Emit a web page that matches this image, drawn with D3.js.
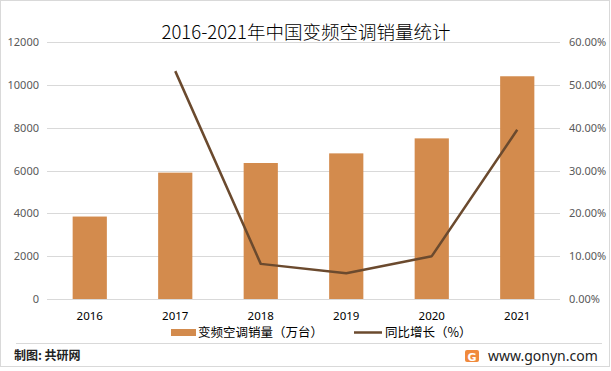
<!DOCTYPE html>
<html><head><meta charset="utf-8">
<script src="https://cdn.jsdelivr.net/npm/d3@7"></script>
<style>
html,body{margin:0;padding:0;background:#fff;}
svg{display:block;font-family:"Noto Sans CJK SC","Noto Sans",sans-serif;}
</style></head>
<body><svg id="c" width="611" height="371"></svg>
<script>
const categories = ["2016","2017","2018","2019","2020","2021"];
const salesValues = [3850, 5900, 6350, 6800, 7500, 10400];
const growthValues = [null, 53.2, 8.2, 6.0, 10.0, 39.5];
const leftTicks = [0, 2000, 4000, 6000, 8000, 10000, 12000];
const rightTicks = [0, 10, 20, 30, 40, 50, 60];
const titleText = "2016-2021年中国变频空调销量统计";
const legendLabels = ["变频空调销量（万台）", "同比增长（%）"];

const svg = d3.select("#c");
const barColor = "#d38b4d", lineColor = "#6b4a2e";
const plotL = 47, plotR = 560, plotT = 42, plotB = 299;

// frame
svg.append("rect").attr("x",0.5).attr("y",0.5).attr("width",609).attr("height",366)
  .attr("fill","#fff").attr("stroke","#d9d9d9");

const x = d3.scaleBand().domain(categories).range([plotL, plotR]).paddingInner(0.6).paddingOuter(0.3);
const yL = d3.scaleLinear().domain([0, 12000]).range([plotB, plotT]);
const yR = d3.scaleLinear().domain([0, 60]).range([plotB, plotT]);

// gridlines
svg.append("g").selectAll("line").data(leftTicks).join("line")
  .attr("x1", plotL).attr("x2", plotR)
  .attr("y1", d => Math.round(yL(d))+0.5).attr("y2", d => Math.round(yL(d))+0.5)
  .attr("stroke","#d9d9d9").attr("stroke-width",1);

// left axis
const la = svg.append("g").attr("transform",`translate(${plotL},0)`)
  .call(d3.axisLeft(yL).tickValues(leftTicks).tickSize(0).tickPadding(8).tickFormat(d3.format("d")));
la.select(".domain").remove();
la.selectAll("text").attr("fill","#595959").style("font-size","11px").style("font-family","'Noto Sans','DejaVu Sans',sans-serif");

// right axis
const ra = svg.append("g").attr("transform",`translate(${plotR},0)`)
  .call(d3.axisRight(yR).tickValues(rightTicks).tickSize(0).tickPadding(9).tickFormat(d => d.toFixed(2)+"%"));
ra.select(".domain").remove();
ra.selectAll("text").attr("fill","#595959").style("font-size","11px").style("font-family","'Noto Sans','DejaVu Sans',sans-serif");

// bars
svg.append("g").selectAll("rect").data(categories).join("rect")
  .attr("x", d => x(d)).attr("width", x.bandwidth())
  .attr("y", (d,i) => yL(salesValues[i]))
  .attr("height", (d,i) => yL(0) - yL(salesValues[i]))
  .attr("fill", barColor);

// x axis
const xa = svg.append("g").attr("transform",`translate(0,${plotB})`)
  .call(d3.axisBottom(x).tickSize(0).tickPadding(13));
xa.select(".domain").remove();
xa.selectAll("text").attr("fill","#000").style("font-size","11.5px").style("font-family","'Noto Sans','DejaVu Sans',sans-serif");

// line
const pts = categories.map((c,i) => ({c, v: growthValues[i]})).filter(d => d.v !== null);
svg.append("path").datum(pts)
  .attr("d", d3.line().x(d => x(d.c) + x.bandwidth()/2).y(d => yR(d.v)))
  .attr("fill","none").attr("stroke",lineColor).attr("stroke-width",2.5).attr("stroke-linejoin","round");

// title
svg.append("text").attr("x", 306).attr("y", 39).attr("text-anchor","middle")
  .attr("fill","#000").style("font-size","18.5px").style("font-weight","300").text(titleText);

// legend
const lg = svg.append("g");
lg.append("rect").attr("x",171).attr("y",329).attr("width",25).attr("height",7).attr("fill",barColor);
lg.append("text").attr("x",198).attr("y",337).attr("fill","#000").style("font-size","12.5px").text(legendLabels[0]);
lg.append("line").attr("x1",354).attr("x2",382).attr("y1",332.5).attr("y2",332.5).attr("stroke",lineColor).attr("stroke-width",2.5);
lg.append("text").attr("x",385).attr("y",337).attr("fill","#000").style("font-size","12.5px").text(legendLabels[1]);

// footer
svg.append("line").attr("x1",16).attr("x2",602).attr("y1",343.5).attr("y2",343.5).attr("stroke","#d9d9d9");
svg.append("text").attr("x",14).attr("y",360).attr("fill","#222").style("font-size","12px").style("font-weight","bold").text("制图: 共研网");
// logo
const logo = svg.append("g").attr("transform","translate(465,350)");
logo.append("rect").attr("width",14).attr("height",12).attr("rx",2).attr("fill","#f08a3c");
logo.append("text").attr("x",7).attr("y",10.5).attr("text-anchor","middle").attr("fill","#fff")
  .style("font-size","11px").style("font-weight","bold").style("font-family","'DejaVu Sans',sans-serif").text("G");
svg.append("text").attr("x",488).attr("y",361).attr("fill","#222").style("font-size","14px")
  .style("font-family","'Noto Sans','DejaVu Sans',sans-serif").text("www.gonyn.com");
</script></body></html>
